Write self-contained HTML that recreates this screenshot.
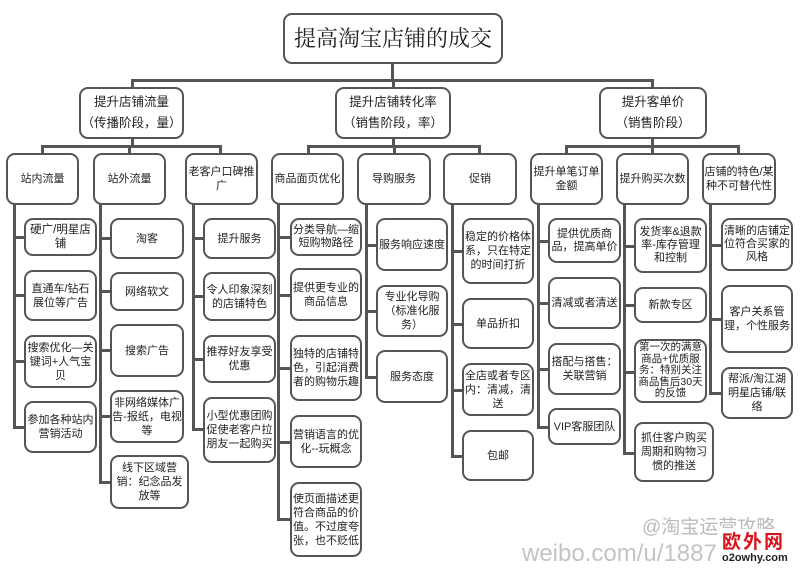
<!DOCTYPE html>
<html><head><meta charset="utf-8"><style>
body{margin:0;width:800px;height:570px;background:#fff;position:relative;overflow:hidden;font-family:"Liberation Sans","Noto Sans CJK SC",sans-serif;color:#222}
.b{position:absolute;box-sizing:border-box;border:2.5px solid #555;border-radius:9px;background:#fff;display:flex;align-items:center;justify-content:center;text-align:center;font-size:11px;line-height:14px;padding:0}
.l{position:absolute;background:#555}
.w{position:absolute;color:#bbb;white-space:nowrap}
</style></head><body>
<div class="l" style="left:391px;top:63px;width:3px;height:17px"></div>
<div class="l" style="left:131px;top:79px;width:523px;height:3px"></div>
<div class="l" style="left:131px;top:79px;width:3px;height:10px"></div>
<div class="l" style="left:392px;top:79px;width:3px;height:10px"></div>
<div class="l" style="left:651px;top:79px;width:3px;height:10px"></div>
<div class="l" style="left:131px;top:138px;width:3px;height:8px"></div>
<div class="l" style="left:392px;top:138px;width:3px;height:8px"></div>
<div class="l" style="left:651px;top:138px;width:3px;height:8px"></div>
<div class="l" style="left:41px;top:145px;width:181px;height:3px"></div>
<div class="l" style="left:307px;top:145px;width:174px;height:3px"></div>
<div class="l" style="left:565px;top:145px;width:175px;height:3px"></div>
<div class="l" style="left:41px;top:145px;width:3px;height:9px"></div>
<div class="l" style="left:128px;top:145px;width:3px;height:9px"></div>
<div class="l" style="left:219px;top:145px;width:3px;height:9px"></div>
<div class="l" style="left:307px;top:145px;width:3px;height:9px"></div>
<div class="l" style="left:393px;top:145px;width:3px;height:9px"></div>
<div class="l" style="left:478px;top:145px;width:3px;height:9px"></div>
<div class="l" style="left:565px;top:145px;width:3px;height:9px"></div>
<div class="l" style="left:651px;top:145px;width:3px;height:9px"></div>
<div class="l" style="left:737px;top:145px;width:3px;height:9px"></div>
<div class="l" style="left:13px;top:204px;width:3px;height:224px"></div>
<div class="l" style="left:99px;top:204px;width:3px;height:280px"></div>
<div class="l" style="left:192px;top:204px;width:3px;height:226px"></div>
<div class="l" style="left:277px;top:204px;width:3px;height:317px"></div>
<div class="l" style="left:365px;top:204px;width:3px;height:174px"></div>
<div class="l" style="left:451px;top:204px;width:3px;height:253px"></div>
<div class="l" style="left:537px;top:204px;width:3px;height:224px"></div>
<div class="l" style="left:623px;top:204px;width:3px;height:250px"></div>
<div class="l" style="left:709px;top:204px;width:3px;height:190px"></div>
<div class="l" style="left:13px;top:236px;width:12px;height:3px"></div>
<div class="l" style="left:13px;top:294px;width:12px;height:3px"></div>
<div class="l" style="left:13px;top:360px;width:12px;height:3px"></div>
<div class="l" style="left:13px;top:426px;width:12px;height:3px"></div>
<div class="l" style="left:99px;top:237px;width:12px;height:3px"></div>
<div class="l" style="left:99px;top:290px;width:12px;height:3px"></div>
<div class="l" style="left:99px;top:349px;width:12px;height:3px"></div>
<div class="l" style="left:99px;top:415px;width:12px;height:3px"></div>
<div class="l" style="left:99px;top:481px;width:12px;height:3px"></div>
<div class="l" style="left:192px;top:237px;width:12px;height:3px"></div>
<div class="l" style="left:192px;top:295px;width:12px;height:3px"></div>
<div class="l" style="left:192px;top:358px;width:12px;height:3px"></div>
<div class="l" style="left:192px;top:428px;width:12px;height:3px"></div>
<div class="l" style="left:277px;top:236px;width:14px;height:3px"></div>
<div class="l" style="left:277px;top:294px;width:14px;height:3px"></div>
<div class="l" style="left:277px;top:367px;width:14px;height:3px"></div>
<div class="l" style="left:277px;top:441px;width:14px;height:3px"></div>
<div class="l" style="left:277px;top:518px;width:14px;height:3px"></div>
<div class="l" style="left:365px;top:244px;width:12px;height:3px"></div>
<div class="l" style="left:365px;top:310px;width:12px;height:3px"></div>
<div class="l" style="left:365px;top:376px;width:12px;height:3px"></div>
<div class="l" style="left:451px;top:250px;width:12px;height:3px"></div>
<div class="l" style="left:451px;top:323px;width:12px;height:3px"></div>
<div class="l" style="left:451px;top:389px;width:12px;height:3px"></div>
<div class="l" style="left:451px;top:455px;width:12px;height:3px"></div>
<div class="l" style="left:537px;top:240px;width:12px;height:3px"></div>
<div class="l" style="left:537px;top:302px;width:12px;height:3px"></div>
<div class="l" style="left:537px;top:368px;width:12px;height:3px"></div>
<div class="l" style="left:537px;top:426px;width:12px;height:3px"></div>
<div class="l" style="left:623px;top:245px;width:12px;height:3px"></div>
<div class="l" style="left:623px;top:304px;width:12px;height:3px"></div>
<div class="l" style="left:623px;top:371px;width:12px;height:3px"></div>
<div class="l" style="left:623px;top:452px;width:12px;height:3px"></div>
<div class="l" style="left:709px;top:244px;width:13px;height:3px"></div>
<div class="l" style="left:709px;top:318px;width:13px;height:3px"></div>
<div class="l" style="left:709px;top:392px;width:13px;height:3px"></div>

<div class="b" style="left:283px;top:13px;width:220px;height:51px;font-family:'Liberation Serif','Noto Serif CJK SC',serif;font-size:22px;line-height:26px">提高淘宝店铺的成交</div>
<div class="b" style="left:79px;top:87px;width:105px;height:52px;font-size:12.5px;line-height:21px">提升店铺流量<br>（传播阶段，量）</div>
<div class="b" style="left:335px;top:87px;width:116px;height:52px;font-size:12.5px;line-height:21px">提升店铺转化率<br>（销售阶段，率）</div>
<div class="b" style="left:599px;top:87px;width:108px;height:52px;font-size:12.5px;line-height:21px">提升客单价<br>（销售阶段）</div>
<div class="b" style="left:6px;top:153px;width:73px;height:52px">站内流量</div>
<div class="b" style="left:93px;top:153px;width:73px;height:52px">站外流量</div>
<div class="b" style="left:185px;top:153px;width:73px;height:52px;align-items:flex-start;padding-top:10px">老客户口碑推广</div>
<div class="b" style="left:271px;top:153px;width:73px;height:52px">商品面页优化</div>
<div class="b" style="left:357px;top:153px;width:74px;height:52px">导购服务</div>
<div class="b" style="left:443px;top:153px;width:74px;height:52px">促销</div>
<div class="b" style="left:530px;top:153px;width:73px;height:52px">提升单笔订单金额</div>
<div class="b" style="left:616px;top:153px;width:73px;height:52px">提升购买次数</div>
<div class="b" style="left:702px;top:153px;width:74px;height:52px">店铺的特色/某种不可替代性</div>
<div class="b" style="left:24px;top:218px;width:73px;height:38px;font-size:11.5px">硬广/明星店铺</div>
<div class="b" style="left:24px;top:270px;width:73px;height:51px">直通车/钻石展位等广告</div>
<div class="b" style="left:24px;top:335px;width:73px;height:53px">搜索优化—关键词+人气宝贝</div>
<div class="b" style="left:24px;top:401px;width:73px;height:52px">参加各种站内营销活动</div>
<div class="b" style="left:110px;top:218px;width:74px;height:41px">淘客</div>
<div class="b" style="left:110px;top:272px;width:74px;height:39px">网络软文</div>
<div class="b" style="left:110px;top:324px;width:74px;height:53px">搜索广告</div>
<div class="b" style="left:110px;top:390px;width:74px;height:53px">非网络媒体广告-报纸，电视等</div>
<div class="b" style="left:110px;top:455px;width:79px;height:54px">线下区域营销：纪念品发放等</div>
<div class="b" style="left:203px;top:218px;width:73px;height:41px">提升服务</div>
<div class="b" style="left:203px;top:272px;width:73px;height:49px">令人印象深刻的店铺特色</div>
<div class="b" style="left:203px;top:335px;width:73px;height:48px">推荐好友享受优惠</div>
<div class="b" style="left:203px;top:397px;width:73px;height:66px">小型优惠团购促使老客户拉朋友一起购买</div>
<div class="b" style="left:290px;top:218px;width:72px;height:38px;font-size:11px;line-height:13px">分类导航—缩短购物路径</div>
<div class="b" style="left:290px;top:268px;width:72px;height:53px">提供更专业的商品信息</div>
<div class="b" style="left:290px;top:335px;width:72px;height:66px">独特的店铺特色，引起消费者的购物乐趣</div>
<div class="b" style="left:290px;top:415px;width:72px;height:53px">营销语言的优化--玩概念</div>
<div class="b" style="left:290px;top:482px;width:72px;height:75px">使页面描述更符合商品的价值。不过度夸张，也不贬低</div>
<div class="b" style="left:376px;top:218px;width:72px;height:53px">服务响应速度</div>
<div class="b" style="left:376px;top:285px;width:72px;height:52px">专业化导购（标准化服务）</div>
<div class="b" style="left:376px;top:350px;width:72px;height:53px">服务态度</div>
<div class="b" style="left:462px;top:218px;width:72px;height:66px">稳定的价格体系，只在特定的时间打折</div>
<div class="b" style="left:462px;top:298px;width:72px;height:51px">单品折扣</div>
<div class="b" style="left:462px;top:363px;width:72px;height:53px">全店或者专区内：清减，清送</div>
<div class="b" style="left:462px;top:430px;width:72px;height:51px">包邮</div>
<div class="b" style="left:548px;top:218px;width:73px;height:45px;line-height:13px">提供优质商品，提高单价</div>
<div class="b" style="left:548px;top:277px;width:73px;height:52px">清减或者清送</div>
<div class="b" style="left:548px;top:343px;width:73px;height:52px">搭配与搭售：关联营销</div>
<div class="b" style="left:548px;top:408px;width:73px;height:37px">VIP客服团队</div>
<div class="b" style="left:634px;top:218px;width:73px;height:55px;line-height:13px">发货率&amp;退款率-库存管理和控制</div>
<div class="b" style="left:634px;top:287px;width:73px;height:36px">新款专区</div>
<div class="b" style="left:634px;top:339px;width:73px;height:64px;font-size:10.5px;line-height:11.5px">第一次的满意商品+优质服务：特别关注商品售后30天的反馈</div>
<div class="b" style="left:634px;top:422px;width:80px;height:60px">抓住客户购买周期和购物习惯的推送</div>
<div class="b" style="left:721px;top:218px;width:72px;height:53px;line-height:13px">清晰的店铺定位符合买家的风格</div>
<div class="b" style="left:721px;top:285px;width:72px;height:68px">客户关系管理，个性服务</div>
<div class="b" style="left:721px;top:367px;width:72px;height:52px">帮派/淘江湖明星店铺/联络</div>
<div class="w" style="left:642px;top:512px;font-size:19px">@淘宝运营攻略</div>
<div class="w" style="left:522px;top:540px;font-size:24px;color:#c4c4c4">weibo.com/u/1887</div>
<div style="position:absolute;left:718px;top:529px;width:74px;height:22px;background:#fff"></div>
<div style="position:absolute;left:722px;top:527px;color:#d8141b;font-weight:bold;font-size:19px;letter-spacing:2px">欧外网</div>
<div style="position:absolute;left:722px;top:552px;color:#222;font-weight:bold;font-size:11px">o2owhy.com</div>
</body></html>
